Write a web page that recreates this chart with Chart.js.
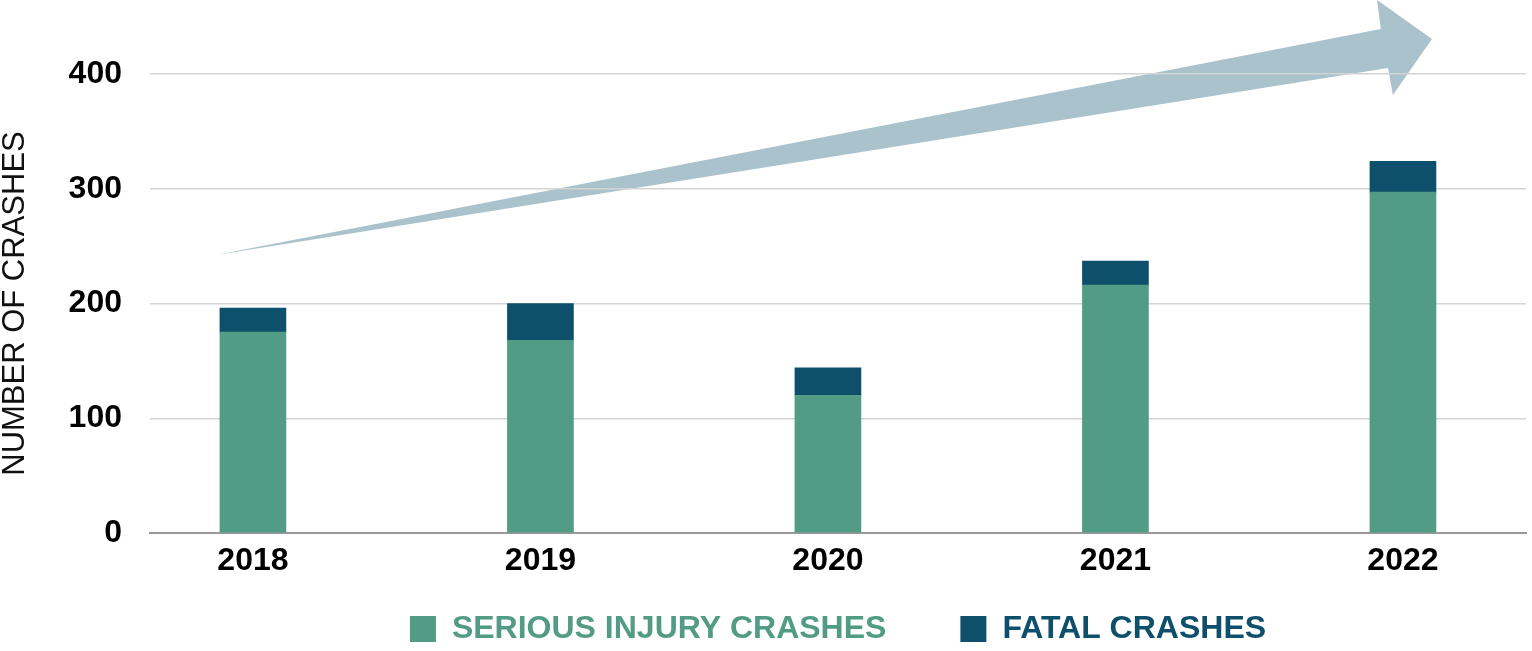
<!DOCTYPE html>
<html>
<head>
<meta charset="utf-8">
<script src="https://cdn.jsdelivr.net/npm/chart.js@4"></script>
<style>
  html, body { margin: 0; padding: 0; background: #fff; }
  #wrap { width: 1532px; height: 651px; position: relative; }
</style>
</head>
<body>
<div id="wrap"><canvas id="chartCrashes"></canvas></div>
<script>
// data
const YEARS = [2018, 2019, 2020, 2021, 2022];
const SERIOUS = [175, 168, 120, 216, 297];
const FATAL = [21, 32, 24, 21, 27];
const Y_TICKS = [0, 100, 200, 300, 400];

const GREEN = '#529b84';
const NAVY = '#0e506c';
const ARROW = '#a9c2cc';

Chart.defaults.font.family = '"Liberation Sans", Arial, sans-serif';
Chart.defaults.color = '#000';

// big trend arrow, given in data units (year, crashes) so it follows the scales
const trendArrow = {
  id: 'trendArrow',
  beforeDraw(chart) {
    const { ctx, scales: { x, y } } = chart;
    const pts = [
      [2017.871, 242.3],  // tail
      [2021.923, 439.2],  // shaft top at head
      [2021.910, 464.5],  // head upper corner
      [2022.101, 430.5],  // tip
      [2021.965, 381.7],  // head lower corner
      [2021.948, 405.2]   // shaft bottom at head
    ];
    ctx.save();
    ctx.fillStyle = ARROW;
    ctx.beginPath();
    pts.forEach(([vx, vy], i) => {
      const px = x.getPixelForValue(vx), py = y.getPixelForValue(vy);
      if (i === 0) ctx.moveTo(px, py); else ctx.lineTo(px, py);
    });
    ctx.closePath();
    ctx.fill();
    ctx.restore();
  }
};

function toPoints(values) {
  return values.map((v, i) => ({ x: YEARS[i], y: v }));
}

const ctx = document.getElementById('chartCrashes');
new Chart(ctx, {
  type: 'bar',
  data: {
    datasets: [
      { label: 'SERIOUS INJURY CRASHES', data: toPoints(SERIOUS), backgroundColor: GREEN, borderColor: GREEN, borderWidth: 0, barThickness: 66 },
      { label: 'FATAL CRASHES', data: toPoints(FATAL), backgroundColor: NAVY, borderColor: NAVY, borderWidth: 0, barThickness: 66 }
    ]
  },
  options: {
    responsive: true,
    maintainAspectRatio: false,
    animation: false,
    layout: { padding: { top: 74, right: 6, bottom: -4, left: 0 } },
    plugins: {
      tooltip: { enabled: false },
      legend: {
        position: 'bottom',
        fullSize: false,
        labels: {
          boxWidth: 26,
          boxHeight: 26,
          padding: 74,
          font: { size: 32, weight: 'bold' },
          generateLabels: chart => Chart.defaults.plugins.legend.labels.generateLabels(chart)
            .map(item => ({ ...item, fontColor: item.fillStyle }))
        }
      }
    },
    scales: {
      x: {
        type: 'linear',
        stacked: true,
        offset: false,
        min: 2017.642,
        max: 2022.428,
        afterBuildTicks: scale => { scale.ticks = YEARS.map(v => ({ value: v })); },
        // the legend's wide item gap also pads it vertically, so the axis box is kept thin
        // and the year labels are drawn (mirrored, unclipped) below it
        afterFit: scale => { scale.height = 6; },
        grid: { display: false, drawTicks: false, offset: false },
        border: { display: true, color: '#999', width: 2 },
        ticks: {
          mirror: true, padding: -47, maxRotation: 0, autoSkip: false,
          font: { size: 32, weight: 'bold' }, color: '#000',
          callback: v => String(v)
        }
      },
      y: {
        stacked: true,
        min: 0,
        max: 400,
        afterBuildTicks: scale => { scale.ticks = Y_TICKS.map(v => ({ value: v })); },
        afterFit: scale => { scale.width = 150; },
        grid: { color: '#d4d4d4', lineWidth: 1.5, drawTicks: false },
        border: { display: false },
        ticks: { padding: 28, font: { size: 32, weight: 'bold' }, color: '#000' },
        title: {
          display: true,
          text: 'NUMBER OF CRASHES',
          color: '#111',
          padding: { top: 0, bottom: 0 },
          font: { size: 31, weight: 'normal', lineHeight: 1 }
        }
      }
    }
  },
  plugins: [trendArrow]
});
</script>
</body>
</html>
